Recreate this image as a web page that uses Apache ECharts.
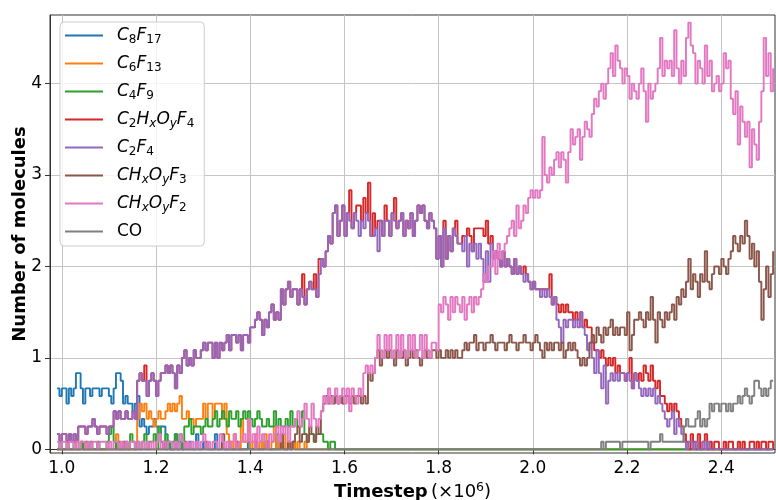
<!DOCTYPE html>
<html>
<head>
<meta charset="utf-8">
<script src="https://cdn.jsdelivr.net/npm/echarts@6/dist/echarts.min.js"></script>
<style>
  html, body { margin: 0; padding: 0; background: #fff; }
  #chart { width: 776px; height: 500px; }
</style>
</head>
<body>
<div id="chart"></div>
<script>
// timestep sampling (x 10^6): one sample every 0.005, starting at 0.99
const t0 = 0.99;
const dt = 0.005;

// molecule counts averaged over 12 runs, stored as twelfths (one row = 0.1 x 10^6)
const C8F17 = [
  8,7,8,8,6,8,7,8,10,10,8,6,8,8,7,8,8,8,7,8,
  8,8,7,6,8,10,10,9,6,7,6,6,5,6,7,3,4,3,2,3,
  3,4,3,2,3,3,0,1,0,0,2,0,1,0,0,0,1,0,0,2,
  0,0,1,0,0,0,0,2,0,0,0,0,0,1,0,0,0,0,0,0,
  0,1,0,0,0,0,0,0,1,0,0,0,0,2,0,1,0,0,0,0,
  1,0,0,0,0,0,0,0,0,0,0,0,0,0,0,0,0,0,0,0,
  0,0,0,0,0,0,0,0,0,0,0,0,0,0,0,0,0,0,0,0,
  0,0,0,0,0,0,0,0,0,0,0,0,0,0,0,0,0,0,0,0,
  0,0,0,0,0,0,0,0,0,0,0,0,0,0,0,0,0,0,0,0,
  0,0,0,0,0,0,0,0,0,0,0,0,0,0,0,0,0,0,0,0,
  0,0,0,0,0,0,0,0,0,0,0,0,0,0,0,0,0,0,0,0,
  0,0,0,0,0,0,0,0,0,0,0,0,0,0,0,0,0,0,0,0,
  0,0,0,0,0,0,0,0,0,0,0,0,0,0,0,0,0,0,0,0,
  0,0,0,0,0,0,0,0,0,0,0,0,0,0,0,0,0,0,0,0,
  0,0,0,0,0,0,0,0,0,0,0,0,0,0,0,0,0,0,0,0,
  0,0,0,0,0
];
const C6F13 = [
  0,0,0,0,0,0,0,0,0,0,1,0,0,0,0,0,0,0,0,0,
  0,0,0,0,0,2,0,0,0,0,0,0,0,0,4,6,5,6,4,5,
  4,3,4,5,4,4,5,6,5,6,5,6,7,4,4,5,4,4,3,4,
  4,4,6,4,6,6,4,6,6,6,4,6,2,1,0,2,1,0,4,1,
  1,4,0,1,2,0,1,0,2,1,0,1,3,0,1,0,2,0,1,0,
  1,0,1,0,0,1,0,0,0,0,0,0,0,0,0,0,0,0,0,0,
  0,0,0,0,0,0,0,0,0,0,0,0,0,0,0,0,0,0,0,0,
  0,0,0,0,0,0,0,0,0,0,0,0,0,0,0,0,0,0,0,0,
  0,0,0,0,0,0,0,0,0,0,0,0,0,0,0,0,0,0,0,0,
  0,0,0,0,0,0,0,0,0,0,0,0,0,0,0,0,0,0,0,0,
  0,0,0,0,0,0,0,0,0,0,0,0,0,0,0,0,0,0,0,0,
  0,0,0,0,0,0,0,0,0,0,0,0,0,0,0,0,0,0,0,0,
  0,0,0,0,0,0,0,0,0,0,0,0,0,0,0,0,0,0,0,0,
  0,0,0,0,0,0,0,0,0,0,0,0,0,0,0,0,0,0,0,0,
  0,0,0,0,0,0,0,0,0,0,0,0,0,0,0,0,0,0,0,0,
  0,0,0,0,0
];
const C4F9 = [
  0,1,0,0,1,0,0,1,0,0,1,0,0,0,1,0,0,1,0,0,
  0,1,2,3,1,0,1,0,0,1,0,2,1,0,1,0,1,2,0,1,
  1,2,0,3,1,0,2,1,0,1,2,1,2,0,3,3,4,2,3,3,
  3,2,3,4,3,3,4,5,3,4,5,4,3,5,4,4,5,3,4,5,
  4,5,4,3,4,5,4,3,3,4,3,3,5,3,4,3,3,4,3,5,
  3,4,3,3,5,2,1,2,2,1,2,2,2,1,1,0,1,1,0,0,
  0,0,0,0,0,0,0,0,0,0,0,0,0,0,0,0,0,0,0,0,
  0,0,0,0,0,0,0,0,0,0,0,0,0,0,0,0,0,0,0,0,
  0,0,0,0,0,0,0,0,0,0,0,0,0,0,0,0,0,0,0,0,
  0,0,0,0,0,0,0,0,0,0,0,0,0,0,0,0,0,0,0,0,
  0,0,0,0,0,0,0,0,0,0,0,0,0,0,0,0,0,0,0,0,
  0,0,0,0,0,0,0,0,0,0,0,0,0,0,0,0,0,0,0,0,
  0,0,0,0,0,0,0,0,0,0,0,0,0,0,0,0,0,0,0,0,
  0,0,0,0,0,0,0,0,0,0,0,0,0,0,0,0,0,0,0,0,
  0,0,0,0,0,0,0,0,0,0,0,0,0,0,0,0,0,0,0,0,
  0,0,0,0,0
];
const C2HxOyF4 = [
  2,1,2,2,1,2,1,2,1,3,3,3,2,3,3,4,3,2,3,3,
  3,2,3,3,5,4,5,4,4,5,4,4,5,4,9,10,9,11,7,9,
  10,9,7,9,10,10,11,10,11,10,8,11,10,12,13,11,12,11,13,12,
  12,13,14,13,14,14,12,14,12,14,13,14,15,13,15,15,14,15,13,15,
  15,14,16,16,17,18,17,15,17,16,18,19,17,18,17,21,19,21,22,20,
  21,21,19,21,23,19,21,22,21,23,20,25,25,24,26,28,27,31,32,28,
  30,32,28,31,34,29,31,32,32,30,33,31,35,28,31,29,30,30,28,32,
  30,28,31,33,29,30,31,28,30,29,31,28,30,32,31,32,30,29,31,30,
  29,25,28,24,30,25,28,26,29,30,27,27,28,28,29,28,26,29,29,29,
  29,28,30,27,28,25,26,25,24,26,24,25,24,23,25,23,24,23,24,23,
  22,21,22,21,21,21,21,21,21,23,19,20,19,18,19,18,19,18,18,17,
  18,17,18,16,17,16,16,14,13,13,12,13,12,11,12,11,12,10,11,10,
  10,9,10,12,8,10,9,10,9,11,10,9,11,9,8,9,7,7,6,5,
  6,5,6,5,4,3,2,1,0,2,1,0,2,0,1,2,0,1,0,1,
  1,0,0,1,0,1,1,0,0,1,0,1,0,0,1,1,0,1,0,1,
  1,0,1,1,0
];
const C2F4 = [
  2,1,2,2,1,2,1,2,1,3,3,3,2,3,3,4,3,2,3,3,
  3,2,3,3,5,4,5,4,4,5,4,4,5,4,9,10,9,9,7,9,
  10,9,7,9,10,10,11,10,11,10,8,11,10,12,13,11,12,11,13,12,
  12,13,14,13,14,14,12,14,12,14,13,14,15,13,15,15,14,15,13,15,
  15,14,16,16,17,18,17,15,17,16,18,19,17,18,17,21,19,21,22,20,
  21,21,19,21,20,19,21,22,21,21,20,23,25,24,26,28,27,31,32,28,
  30,32,28,31,30,29,31,30,28,30,29,31,30,28,28,29,26,30,28,30,
  30,28,31,30,29,30,31,28,30,29,31,28,30,32,31,32,30,29,31,30,
  29,25,28,24,29,25,28,26,29,28,27,27,26,28,24,27,26,27,25,27,
  25,22,26,22,27,25,26,25,24,26,24,25,24,23,25,23,24,23,22,23,
  22,21,22,21,21,20,21,20,21,20,19,20,17,16,14,17,16,17,17,16,
  17,16,18,16,15,13,14,12,10,13,10,8,11,6,9,10,9,10,9,10,
  10,9,10,9,8,10,9,8,7,8,7,8,7,8,6,7,6,5,4,3,
  4,5,2,4,3,2,1,0,1,1,0,1,0,0,1,0,1,0,0,0,
  0,0,0,0,0,0,0,0,0,0,0,0,0,0,0,0,0,0,0,0,
  0,0,0,0,0
];
const CHxOyF3 = [
  0,0,0,0,0,0,0,0,0,0,0,0,1,0,0,0,0,0,0,0,
  0,0,0,0,0,0,0,0,1,0,0,0,0,0,0,0,0,0,0,0,
  0,0,0,0,0,1,0,0,0,0,0,0,0,0,1,0,0,0,0,0,
  0,0,0,1,0,0,0,0,0,0,2,0,0,0,0,0,1,0,0,0,
  0,0,0,0,1,0,0,0,0,1,0,0,0,0,0,2,0,0,1,0,
  1,2,3,1,2,2,1,3,2,1,3,2,5,6,7,6,7,6,7,6,
  7,6,7,7,6,7,6,7,7,6,7,6,10,9,10,12,13,11,12,13,
  12,13,12,11,13,12,12,13,11,12,13,12,13,12,11,12,13,12,12,13,
  13,12,13,12,12,13,12,13,12,13,12,12,13,14,13,14,14,15,13,14,
  14,13,14,14,15,14,13,14,14,14,13,14,15,14,14,13,14,14,15,14,
  14,13,14,15,14,13,12,14,13,14,13,14,14,13,14,12,13,14,13,14,
  13,12,11,12,11,12,14,15,14,16,15,14,16,15,16,17,15,16,15,16,
  16,15,18,13,15,17,17,18,17,16,18,17,20,17,14,18,17,16,18,17,
  18,19,17,20,19,21,20,22,25,21,23,22,20,23,22,26,22,21,23,24,
  24,23,25,24,23,25,26,28,27,26,28,27,30,28,25,27,24,26,22,17,
  21,24,20,23,26
];
const CHxOyF2 = [
  1,0,1,1,0,1,1,0,1,0,1,1,0,1,0,1,1,0,1,1,
  1,0,1,0,1,1,0,1,0,1,0,1,1,0,1,0,1,0,1,0,
  1,0,1,2,0,1,0,1,1,0,1,0,2,1,0,1,0,1,0,1,
  0,1,2,0,1,0,1,1,0,2,1,0,1,0,1,2,0,1,1,2,
  1,4,1,2,0,3,1,2,1,0,2,1,2,3,1,3,2,3,1,3,
  3,4,5,3,4,6,4,3,6,4,3,4,5,7,6,8,6,7,8,6,
  7,8,6,8,5,8,7,6,8,7,10,11,10,11,10,12,15,13,12,15,
  13,15,12,13,15,12,15,13,12,15,13,15,12,13,15,12,15,13,12,14,
  14,13,19,18,20,19,17,20,18,20,19,18,20,17,19,20,18,20,19,20,
  21,23,22,24,24,26,23,27,25,26,27,28,29,30,28,32,29,30,32,31,
  33,34,33,34,33,34,41,36,35,37,36,38,39,37,39,38,35,39,42,40,
  41,42,38,41,43,42,41,44,46,45,47,48,46,48,50,52,49,53,51,50,
  48,50,49,46,48,47,46,48,50,47,43,48,46,47,48,50,54,49,51,50,
  51,49,55,50,48,51,49,54,56,53,52,48,51,50,48,53,49,51,47,48,
  49,47,48,52,50,51,46,44,47,40,45,43,41,43,37,42,40,38,43,47,
  54,49,52,47,50
];
const CO = [
  0,0,0,0,0,0,0,0,0,0,0,0,0,0,0,0,0,0,0,0,
  0,0,0,0,0,0,0,0,0,0,0,0,0,0,0,0,0,0,0,0,
  0,0,0,0,0,0,0,0,0,0,0,0,0,0,0,0,0,0,0,0,
  0,0,0,0,0,0,0,0,0,0,0,0,0,0,0,0,0,0,0,0,
  0,0,0,0,0,0,0,0,0,0,0,0,0,0,0,0,0,0,0,0,
  0,0,0,0,0,0,0,0,0,0,0,0,0,0,0,0,0,0,0,0,
  0,0,0,0,0,0,0,0,0,0,0,0,0,0,0,0,0,0,0,0,
  0,0,0,0,0,0,0,0,0,0,0,0,0,0,0,0,0,0,0,0,
  0,0,0,0,0,0,0,0,0,0,0,0,0,0,0,0,0,0,0,0,
  0,0,0,0,0,0,0,0,0,0,0,0,0,0,0,0,0,0,0,0,
  0,0,0,0,0,0,0,0,0,0,0,0,0,0,0,0,0,0,0,0,
  0,0,0,0,0,0,0,0,0,0,0,1,0,1,1,1,1,1,1,0,
  1,1,1,1,1,1,1,1,1,1,1,0,1,1,1,1,2,1,1,1,
  1,1,1,1,1,1,3,4,3,3,3,4,5,3,4,3,4,6,5,6,
  6,5,6,6,5,6,5,6,6,7,6,7,8,7,6,7,9,9,8,7,
  8,7,8,9,9
];

const xTicks = [1.0, 1.2, 1.4, 1.6, 1.8, 2.0, 2.2, 2.4];
const yTicks = [0, 1, 2, 3, 4];

const seriesDefs = [
  { name: "C8F17", values: C8F17, color: "#1f77b4", label: "{i|C}{s|8}{i|F}{s|17}" },
  { name: "C6F13", values: C6F13, color: "#ff7f0e", label: "{i|C}{s|6}{i|F}{s|13}" },
  { name: "C4F9", values: C4F9, color: "#2ca02c", label: "{i|C}{s|4}{i|F}{s|9}" },
  { name: "C2HxOyF4", values: C2HxOyF4, color: "#d62728", label: "{i|C}{s|2}{i|H}{si|x}{i|O}{si|y}{i|F}{s|4}" },
  { name: "C2F4", values: C2F4, color: "#9467bd", label: "{i|C}{s|2}{i|F}{s|4}" },
  { name: "CHxOyF3", values: CHxOyF3, color: "#8c564b", label: "{i|CH}{si|x}{i|O}{si|y}{i|F}{s|3}" },
  { name: "CHxOyF2", values: CHxOyF2, color: "#e377c2", label: "{i|CH}{si|x}{i|O}{si|y}{i|F}{s|2}" },
  { name: "CO", values: CO, color: "#7f7f7f", label: "{n|CO}" },
];
const labelByName = Object.fromEntries(seriesDefs.map((s) => [s.name, s.label]));

const font = "DejaVu Sans";
const chart = echarts.init(document.getElementById("chart"), null, { renderer: "canvas" });
chart.setOption({
  animation: false,
  grid: {
    left: 50, right: 1, top: 15, bottom: 47,
    outerBoundsMode: "none",
    containLabel: false,
    show: true, borderColor: "#333", borderWidth: 1, backgroundColor: "#fff",
  },
  legend: {
    orient: "vertical",
    left: 60,
    top: 22,
    padding: [5, 10, 6, 5],
    itemGap: 9,
    itemWidth: 38,
    itemHeight: 2,
    icon: "rect",
    selectedMode: false,
    backgroundColor: "rgba(255,255,255,0.8)",
    borderColor: "#cccccc",
    borderWidth: 1,
    borderRadius: 4,
    data: seriesDefs.map((s) => s.name),
    formatter: (name) => labelByName[name],
    textStyle: {
      padding: [0, 0, 0, 9],
      color: "#000",
      rich: {
        i: { fontFamily: font, fontStyle: "italic", fontSize: 17, color: "#000" },
        n: { fontFamily: font, fontSize: 17, color: "#000" },
        s: { fontFamily: font, fontSize: 12, color: "#000", padding: [9, 0, 0, 0] },
        si: { fontFamily: font, fontStyle: "italic", fontSize: 12, color: "#000", padding: [9, 0, 0, 0] },
      },
    },
  },
  xAxis: {
    type: "value",
    min: 0.975,
    max: 2.514,
    name: "{b|Timestep} {n|(×10}{p|6}{n|)}",
    nameLocation: "middle",
    nameGap: 28,
    nameMoveOverlap: false,
    nameTextStyle: {
      rich: {
        b: { fontFamily: font, fontWeight: "bold", fontSize: 18, color: "#000" },
        n: { fontFamily: font, fontSize: 18, color: "#000" },
        p: { fontFamily: font, fontSize: 12.5, color: "#000", padding: [0, 0, 9, 0] },
      },
    },
    axisLine: { lineStyle: { color: "#333", width: 1 } },
    axisTick: { show: true, customValues: xTicks, length: 5, lineStyle: { color: "#333" } },
    axisLabel: {
      customValues: xTicks,
      margin: 7,
      fontFamily: font, fontSize: 17, color: "#000",
      formatter: (v) => v.toFixed(1),
    },
    splitLine: { show: true, lineStyle: { color: "#c4c4c4", width: 1 } },
  },
  yAxis: {
    type: "value",
    min: -0.04,
    max: 4.75,
    name: "Number of molecules",
    nameLocation: "middle",
    nameGap: 21,
    nameMoveOverlap: false,
    nameTextStyle: { fontFamily: font, fontWeight: "bold", fontSize: 18, color: "#000" },
    axisLine: { show: true, lineStyle: { color: "#333", width: 1 } },
    axisTick: { show: true, customValues: yTicks, length: 5, lineStyle: { color: "#333" } },
    axisLabel: {
      customValues: yTicks,
      margin: 8,
      fontFamily: font, fontSize: 17, color: "#000",
    },
    splitLine: { show: true, lineStyle: { color: "#c4c4c4", width: 1 } },
  },
  series: seriesDefs.map((s) => ({
    name: s.name,
    type: "line",
    step: "end",
    showSymbol: false,
    silent: true,
    color: s.color,
    lineStyle: { width: 1.9, color: s.color },
    data: s.values.map((v, i) => [t0 + i * dt, v / 12]),
  })),
});
</script>
</body>
</html>
